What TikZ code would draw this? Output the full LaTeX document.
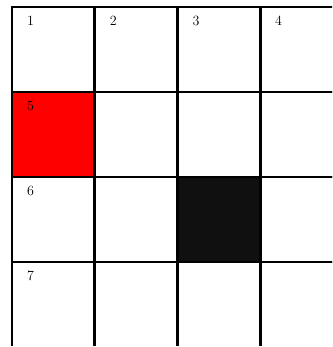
\documentclass[tikz,border=0pt]{standalone}
\usetikzlibrary{positioning}
\definecolor{wallgray}{HTML}{101010}

\begin{document}
\begin{tikzpicture}[
    x=0.03cm, y=-0.03cm,
    cell/.style={draw, line width=2.5pt, minimum width=2.48cm, minimum height=2.55cm, inner sep=0pt},
    num/.style={font=\large, anchor=center}
]

\useasboundingbox (0,0) rectangle (332,347);
\clip (0,0) rectangle (332,345);

\foreach \r in {0,...,3}{
  \foreach \c in {0,...,3}{
    \node[cell] (c\r\c) at ({12+82.7*(\c+0.5)}, {7+85*(\r+0.5)}) {};
  }
}

\node[cell, fill=red] (c10) at ({12+82.7*0.5}, {7+85*1.5}) {};
\node[cell, fill=wallgray] (c22) at ({12+82.7*2.5}, {7+85*2.5}) {};

\node[num] (n1) at ([shift={(20,15)}]c00.north west) {1};
\node[num] (n2) at ([shift={(20,15)}]c01.north west) {2};
\node[num] (n3) at ([shift={(20,15)}]c02.north west) {3};
\node[num] (n4) at ([shift={(20,15)}]c03.north west) {4};
\node[num] (n5) at ([shift={(20,15)}]c10.north west) {5};
\node[num] (n6) at ([shift={(20,15)}]c20.north west) {6};
\node[num] (n7) at ([shift={(20,15)}]c30.north west) {7};

\end{tikzpicture}
\end{document}
